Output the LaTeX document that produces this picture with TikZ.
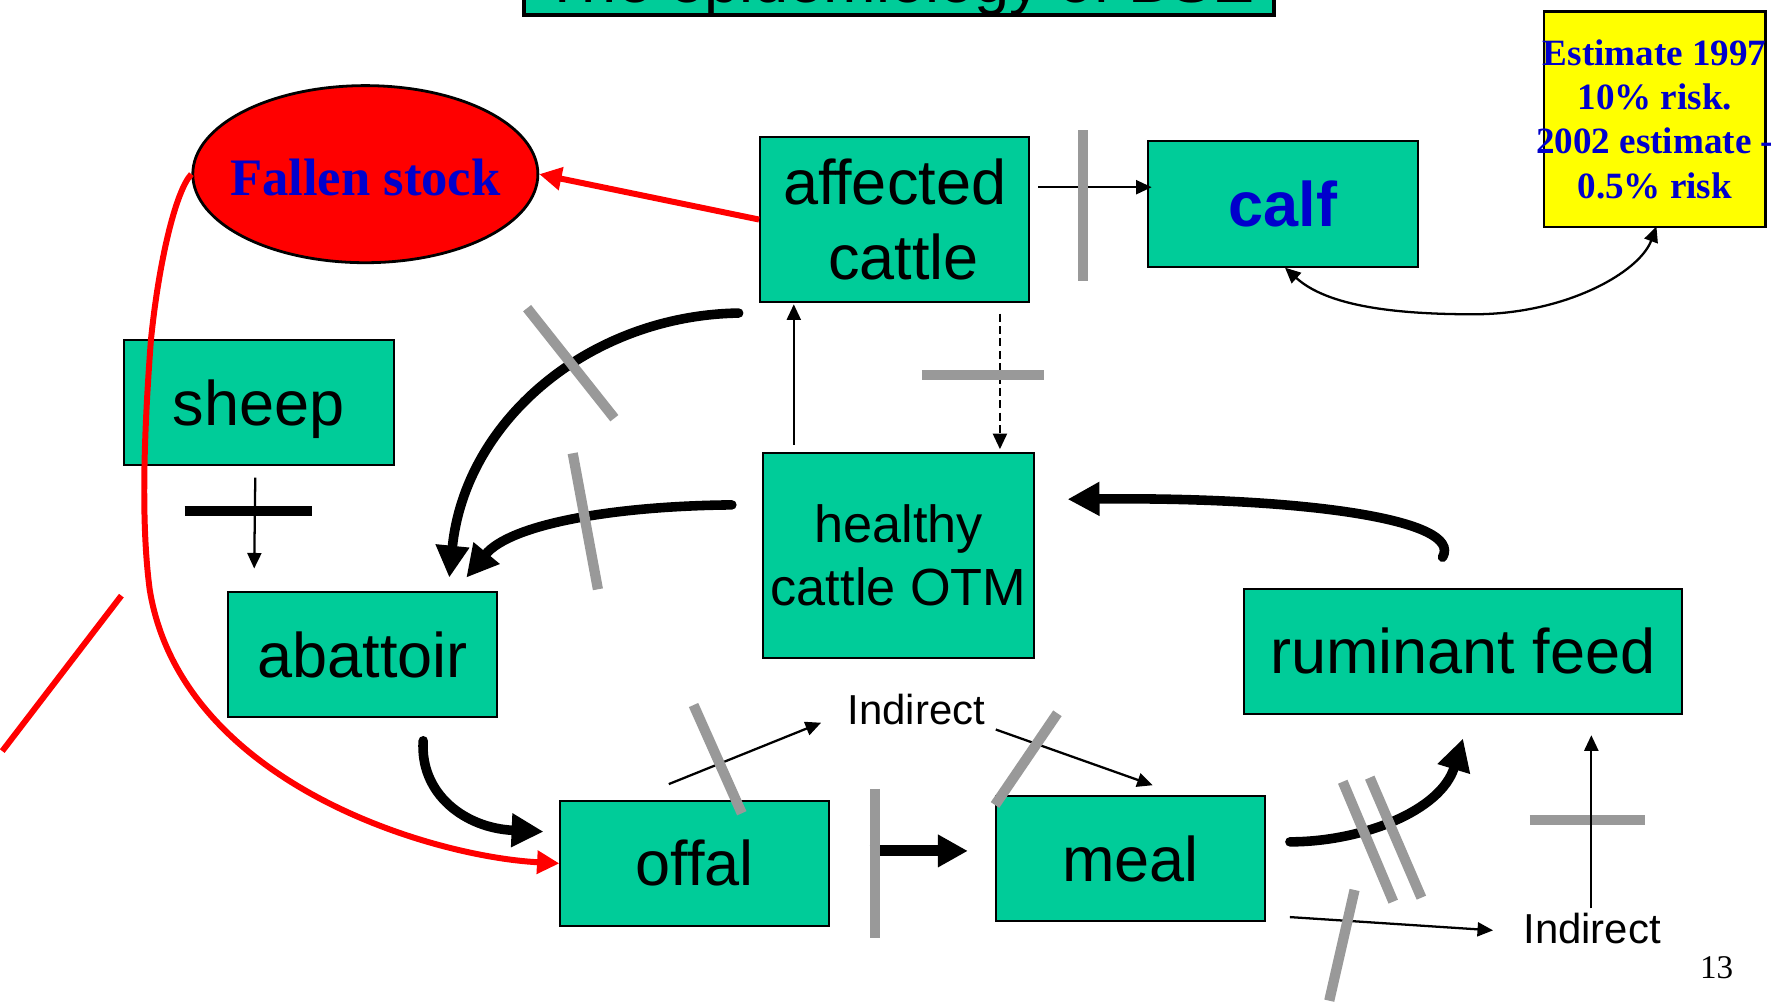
\documentclass[tikz,border=0pt]{standalone}
\usepackage{fontspec}
\setmainfont{Liberation Serif}
\newfontfamily\arialfont{Liberation Sans}
\usetikzlibrary{arrows.meta,shapes.geometric,calc}

\definecolor{boxgreen}{RGB}{0,204,153}
\definecolor{stockred}{RGB}{255,0,0}
\definecolor{textblue}{RGB}{0,0,204}
\definecolor{bargray}{RGB}{153,153,153}
\definecolor{noteyellow}{RGB}{255,255,0}

\newcommand\bigsans{\arialfont\fontsize{15.8pt}{18.8pt}\selectfont}
\newcommand\midsans{\arialfont\fontsize{13.1pt}{15.9pt}\selectfont}
\newcommand\smallsans{\arialfont\fontsize{10.5pt}{12pt}\selectfont}

\begin{document}
\begin{tikzpicture}[x=0.01cm,y=-0.01cm,
  box/.style={draw=black,line width=0.5pt,fill=boxgreen,inner sep=0pt,
    align=center,font=\bigsans},
  titlebox/.style={draw=black,line width=1pt,fill=boxgreen,inner sep=0pt,
    minimum width=6.61cm,text height=0.6cm,text depth=0.11cm,font=\bigsans},
  stockoval/.style={ellipse,draw=black,line width=0.7pt,fill=stockred,inner sep=0pt,
    minimum width=3.04cm,minimum height=1.56cm,text=textblue,
    font=\fontsize{13.2pt}{15pt}\selectfont\bfseries,text height=0.374cm,text depth=0pt},
  notebox/.style={draw=black,line width=0.7pt,fill=noteyellow,inner sep=0pt,
    minimum width=1.95cm,minimum height=1.90cm,align=center,text=textblue,
    font=\fontsize{9.3pt}{11.1pt}\selectfont\bfseries},
  wordlabel/.style={anchor=base,inner sep=0pt,font=\smallsans},
  thinarrow/.style={draw=black,line width=0.57pt,-{Triangle[length=3.9pt,width=3.5pt]}},
  thickarrow/.style={draw=black,line width=2.4pt,line cap=round,
    -{Triangle[length=8pt,width=8pt]}},
  redarrow/.style={draw=stockred,line width=1.5pt,-{Triangle[length=5.6pt,width=5.6pt]}},
  redline/.style={draw=stockred,line width=1.5pt},
  graybar/.style={draw=bargray,line width=2.56pt},
  blackbar/.style={draw=black,line width=2.56pt}
]
\useasboundingbox (0,0) rectangle (1568,884);
\clip (0,0) rectangle (1568,884);

% ---------- boxes ----------
\node[titlebox,anchor=south] (title) at (792.5,15) {The epidemiology of BSE};

\node[stockoval] (fallen) at (322,153.5) {\makebox[0pt]{Fallen stock}};

\node[box,minimum width=2.37cm,minimum height=1.45cm] (affected) at (788.5,193.5)
  {affected\\\hspace*{0.28em}cattle};
\node[box,minimum width=2.38cm,minimum height=1.11cm,text=textblue,
  font=\bigsans\bfseries] (calf) at (1131,179.5) {calf};
\node[notebox] (estimate) at (1458.5,105)
  {\makebox[0pt]{Estimate 1997}\\\makebox[0pt]{10\% risk.}\\
   \makebox[0pt]{2002 estimate -}\\\makebox[0pt]{0.5\% risk}};

\node[box,minimum width=2.38cm,minimum height=1.10cm,text depth=0pt] (sheep) at (228,355) {sheep};
\node[box,minimum width=2.38cm,minimum height=1.81cm,font=\midsans] (healthy) at (792,489.5)
  {healthy\\cattle OTM};
\node[box,minimum width=2.37cm,minimum height=1.10cm] (abattoir) at (319.5,577) {abattoir};
\node[box,minimum width=3.85cm,minimum height=1.10cm] (feed) at (1289.5,574) {ruminant feed};
\node[box,minimum width=2.37cm,minimum height=1.10cm] (offal) at (612.5,761) {offal};
\node[box,minimum width=2.37cm,minimum height=1.10cm] (meal) at (996.5,757) {meal};

\node[wordlabel] (ind1) at (807.7,639) {Indirect};
\node[wordlabel] (ind2) at (1403.3,832) {Indirect};
\node[anchor=base,inner sep=0pt,font=\fontsize{8.3pt}{10pt}\selectfont] (pagenum) at (1513,862.3) {13};

% ---------- connectors ----------
% affected cattle -> calf, blocked
\draw[thinarrow] ($(affected.east)+(7,-28.5)$) -- ($(calf.west)+(4,-14.5)$);
\draw[graybar] (954.6,114.6) -- (954.6,247.4);

% affected cattle <-> healthy cattle
\draw[thinarrow,dash pattern=on 2pt off 1.1pt]
  ($(affected.south east)+(-26.6,9.6)$) -- ($(affected.south east)+(-26.6,129)$);
\draw[graybar] (812.6,330.6) -- (920.6,330.6);
\draw[thinarrow] ($(affected.south west)+(30.6,125)$) -- ($(affected.south west)+(30.6,1.3)$);

% calf <-> estimate
\draw[draw=black,line width=0.57pt,{Triangle[length=3.9pt,width=3.5pt]}-{Triangle[length=3.9pt,width=3.5pt]}]
  ($(calf.south)+(1.6,0)$) .. controls (1170,270) and (1230,277) .. (1299,277)
  .. controls (1380,277) and (1445,240) .. ($(estimate.south)+(1.5,-1.7)$);

% affected cattle -> abattoir
\draw[thickarrow] ($(affected.south west)+(-18,9)$)
  .. controls (520,278) and (410,370) .. ($(abattoir.north)+(76.5,-12)$);
\draw[graybar] (464.6,271.6) -- (541.5,368.6);

% healthy cattle -> abattoir
\draw[thickarrow] ($(healthy.west)+(-27,-44.5)$)
  .. controls (540,446) and (450,462) .. ($(abattoir.north)+(91.5,-12)$);
\draw[graybar] (504.8,399.5) -- (527,519.4);

% sheep -> abattoir
\draw[thinarrow] ($(sheep.south)+(-3,10)$) -- ($(abattoir.north west)+(24,-20)$);
\draw[blackbar] (162.7,450.7) -- (275.4,450.7);

% abattoir -> offal
\draw[thickarrow] ($(abattoir.south)+(53.5,20)$)
  .. controls (370,700) and (410,730) .. ($(offal.west)+(-14,-28)$);

% offal -> indirect -> meal
\draw[thinarrow] ($(offal.north)+(-23,-14)$) -- ($(ind1.base)+(-84,-2)$);
\draw[graybar] (611.3,621.4) -- (653.8,716.8);
\draw[thinarrow] ($(ind1.base)+(70,4)$) -- ($(meal.north)+(19.5,-9)$);
\draw[graybar] (932,628.7) -- (877,709.5);

% offal -> meal
\draw[draw=black,line width=2.76pt,-{Triangle[length=7.5pt,width=7.7pt]}]
  ($(offal.east)+(34.5,-11)$) -- ($(meal.west)+(-24,-7)$);
\draw[graybar,line width=2.5pt] (771.3,695.4) -- (771.3,826.4);

% meal -> ruminant feed
\draw[thickarrow] ($(meal.east)+(21,-15)$)
  .. controls (1200,742) and (1270,715) .. ($(feed.south)+(0,21)$);
\draw[graybar] (1183.5,689) -- (1228,794.7);
\draw[graybar] (1207.3,685.4) -- (1252.8,791.2);

% meal -> indirect -> ruminant feed
\draw[thinarrow] ($(meal.south east)+(21,-4.6)$) -- ($(ind2.base)+(-87.3,-12)$);
\draw[graybar] (1193.9,784.4) -- (1171.6,882);
\draw[graybar] (1348.5,722.4) -- (1449.6,722.4);
\draw[thinarrow] ($(ind2.base)+(-0.7,-31.4)$) -- ($(ind2.base)+(-0.7,-184)$);

% ruminant feed -> healthy cattle
\draw[thickarrow] ($(feed.north)+(-18,-27)$)
  .. controls (1290,458) and (1150,438) .. ($(healthy.east)+(29,-49.5)$);

% fallen stock routes
\draw[redarrow] (affected.west) -- (fallen.east);
\draw[redarrow] (fallen.west) .. controls (155,168) and (140,230) .. (133,300)
  .. controls (127,380) and (124,460) .. (132,520)
  .. controls (160,690) and (380,755) .. (offal.west);
\draw[redline] (2,662) -- (107,525);
\end{tikzpicture}
\end{document}
